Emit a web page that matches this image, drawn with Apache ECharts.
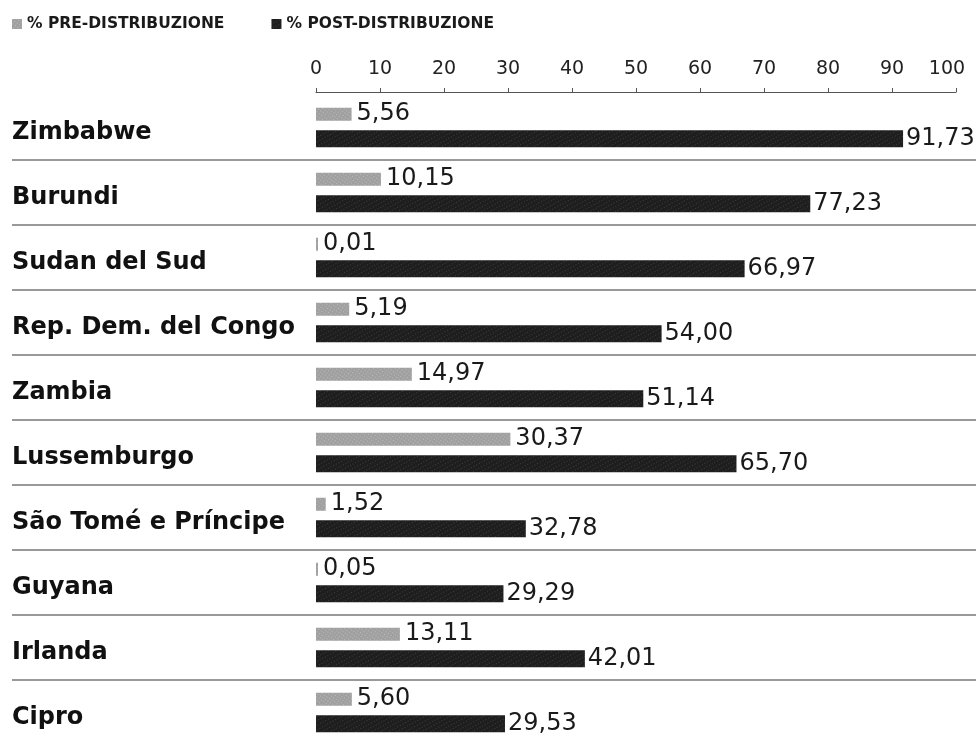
<!DOCTYPE html>
<html>
<head>
<meta charset="utf-8">
<script src="https://cdn.jsdelivr.net/npm/echarts@6/dist/echarts.min.js"></script>
<style>
  html, body { margin: 0; padding: 0; background: #fff; overflow: hidden; }
  #main { width: 976px; height: 760px; }
</style>
</head>
<body>
<div id="main"></div>
<script>
// dati
var paesi = ['Zimbabwe', 'Burundi', 'Sudan del Sud', 'Rep. Dem. del Congo', 'Zambia',
  'Lussemburgo', 'São Tomé e Príncipe', 'Guyana', 'Irlanda', 'Cipro'];
var preDistribuzione = [5.56, 10.15, 0.01, 5.19, 14.97, 30.37, 1.52, 0.05, 13.11, 5.60];
var postDistribuzione = [91.73, 77.23, 66.97, 54.00, 51.14, 65.70, 32.78, 29.29, 42.01, 29.53];
var tickAsse = [0, 10, 20, 30, 40, 50, 60, 70, 80, 90, 100];

var myChart = echarts.init(document.getElementById('main'), null, { renderer: 'canvas' });

function virgola(p) {
  return p.value.toFixed(2).replace('.', ',');
}

var option = {
  animation: false,
  backgroundColor: '#fff',
  textStyle: { fontFamily: 'DejaVu Sans' },
  aria: { enabled: true, decal: { show: true } },
  legend: {
    left: 12,
    top: 16,
    padding: 0,
    itemWidth: 10,
    itemHeight: 10,
    itemGap: 47,
    icon: 'rect',
    data: ['% PRE-DISTRIBUZIONE', '% POST-DISTRIBUZIONE'],
    textStyle: { fontSize: 15.5, fontWeight: 'bold', color: '#1a1a1a', fontFamily: 'DejaVu Sans' }
  },
  grid: [
    // barre
    { left: 316, right: 20, top: 95, height: 650 },
    // linee di separazione a tutta larghezza
    { left: 12, right: 0, top: 95, height: 650 }
  ],
  xAxis: [
    {
      gridIndex: 0,
      type: 'value',
      position: 'top',
      offset: 3,
      min: tickAsse[0],
      max: tickAsse[tickAsse.length - 1],
      interval: 10,
      axisLine: { show: true, lineStyle: { color: '#555', width: 1 } },
      axisTick: { show: true, length: 4, lineStyle: { color: '#555' } },
      splitLine: { show: false },
      axisLabel: {
        fontSize: 19,
        color: '#222',
        margin: 13,
        formatter: function (v) { return v === 100 ? '{r|100}' : String(v); },
        rich: { r: { fontSize: 19, color: '#222', padding: [0, 18, 0, 0] } }
      }
    },
    { gridIndex: 1, type: 'value', show: false, min: 0, max: 1 }
  ],
  yAxis: [
    {
      gridIndex: 0,
      type: 'category',
      inverse: true,
      data: paesi,
      axisLine: { show: false },
      axisTick: { show: false },
      axisLabel: {
        align: 'left',
        margin: 304,
        formatter: function (v) { return '{p|' + v + '}'; },
        rich: {
          p: { fontSize: 24, fontWeight: 'bold', color: '#111', padding: [11, 0, 0, 0] }
        }
      }
    },
    {
      gridIndex: 1,
      type: 'category',
      inverse: true,
      data: paesi,
      axisLine: { show: false },
      axisTick: { show: false },
      axisLabel: { show: false },
      splitLine: {
        show: true,
        interval: function (i) { return i > 0; },
        lineStyle: { color: '#999', width: 2 }
      }
    }
  ],
  series: [
    {
      name: '% PRE-DISTRIBUZIONE',
      type: 'bar',
      xAxisIndex: 0,
      yAxisIndex: 0,
      data: preDistribuzione,
      barWidth: 13,
      barGap: '73%',
      barMinHeight: 2,
      itemStyle: {
        color: '#a0a0a0',
        decal: {
          symbol: 'rect',
          symbolSize: 1,
          color: 'rgba(255,255,255,0.3)',
          dashArrayX: [1, 2],
          dashArrayY: [1, 2],
          rotation: 0.6
        }
      },
      label: {
        show: true,
        position: 'right',
        distance: 5,
        fontSize: 24,
        color: '#1a1a1a',
        formatter: virgola
      }
    },
    {
      name: '% POST-DISTRIBUZIONE',
      type: 'bar',
      xAxisIndex: 0,
      yAxisIndex: 0,
      data: postDistribuzione,
      barWidth: 17,
      itemStyle: {
        color: '#1e1e1e',
        decal: {
          symbol: 'rect',
          symbolSize: 1,
          color: 'rgba(255,255,255,0.14)',
          dashArrayX: [1, 2],
          dashArrayY: [1, 3],
          rotation: -0.5
        }
      },
      label: {
        show: true,
        position: 'right',
        distance: 3,
        fontSize: 24,
        color: '#1a1a1a',
        formatter: virgola
      }
    }
  ]
};

myChart.setOption(option);
</script>
</body>
</html>
